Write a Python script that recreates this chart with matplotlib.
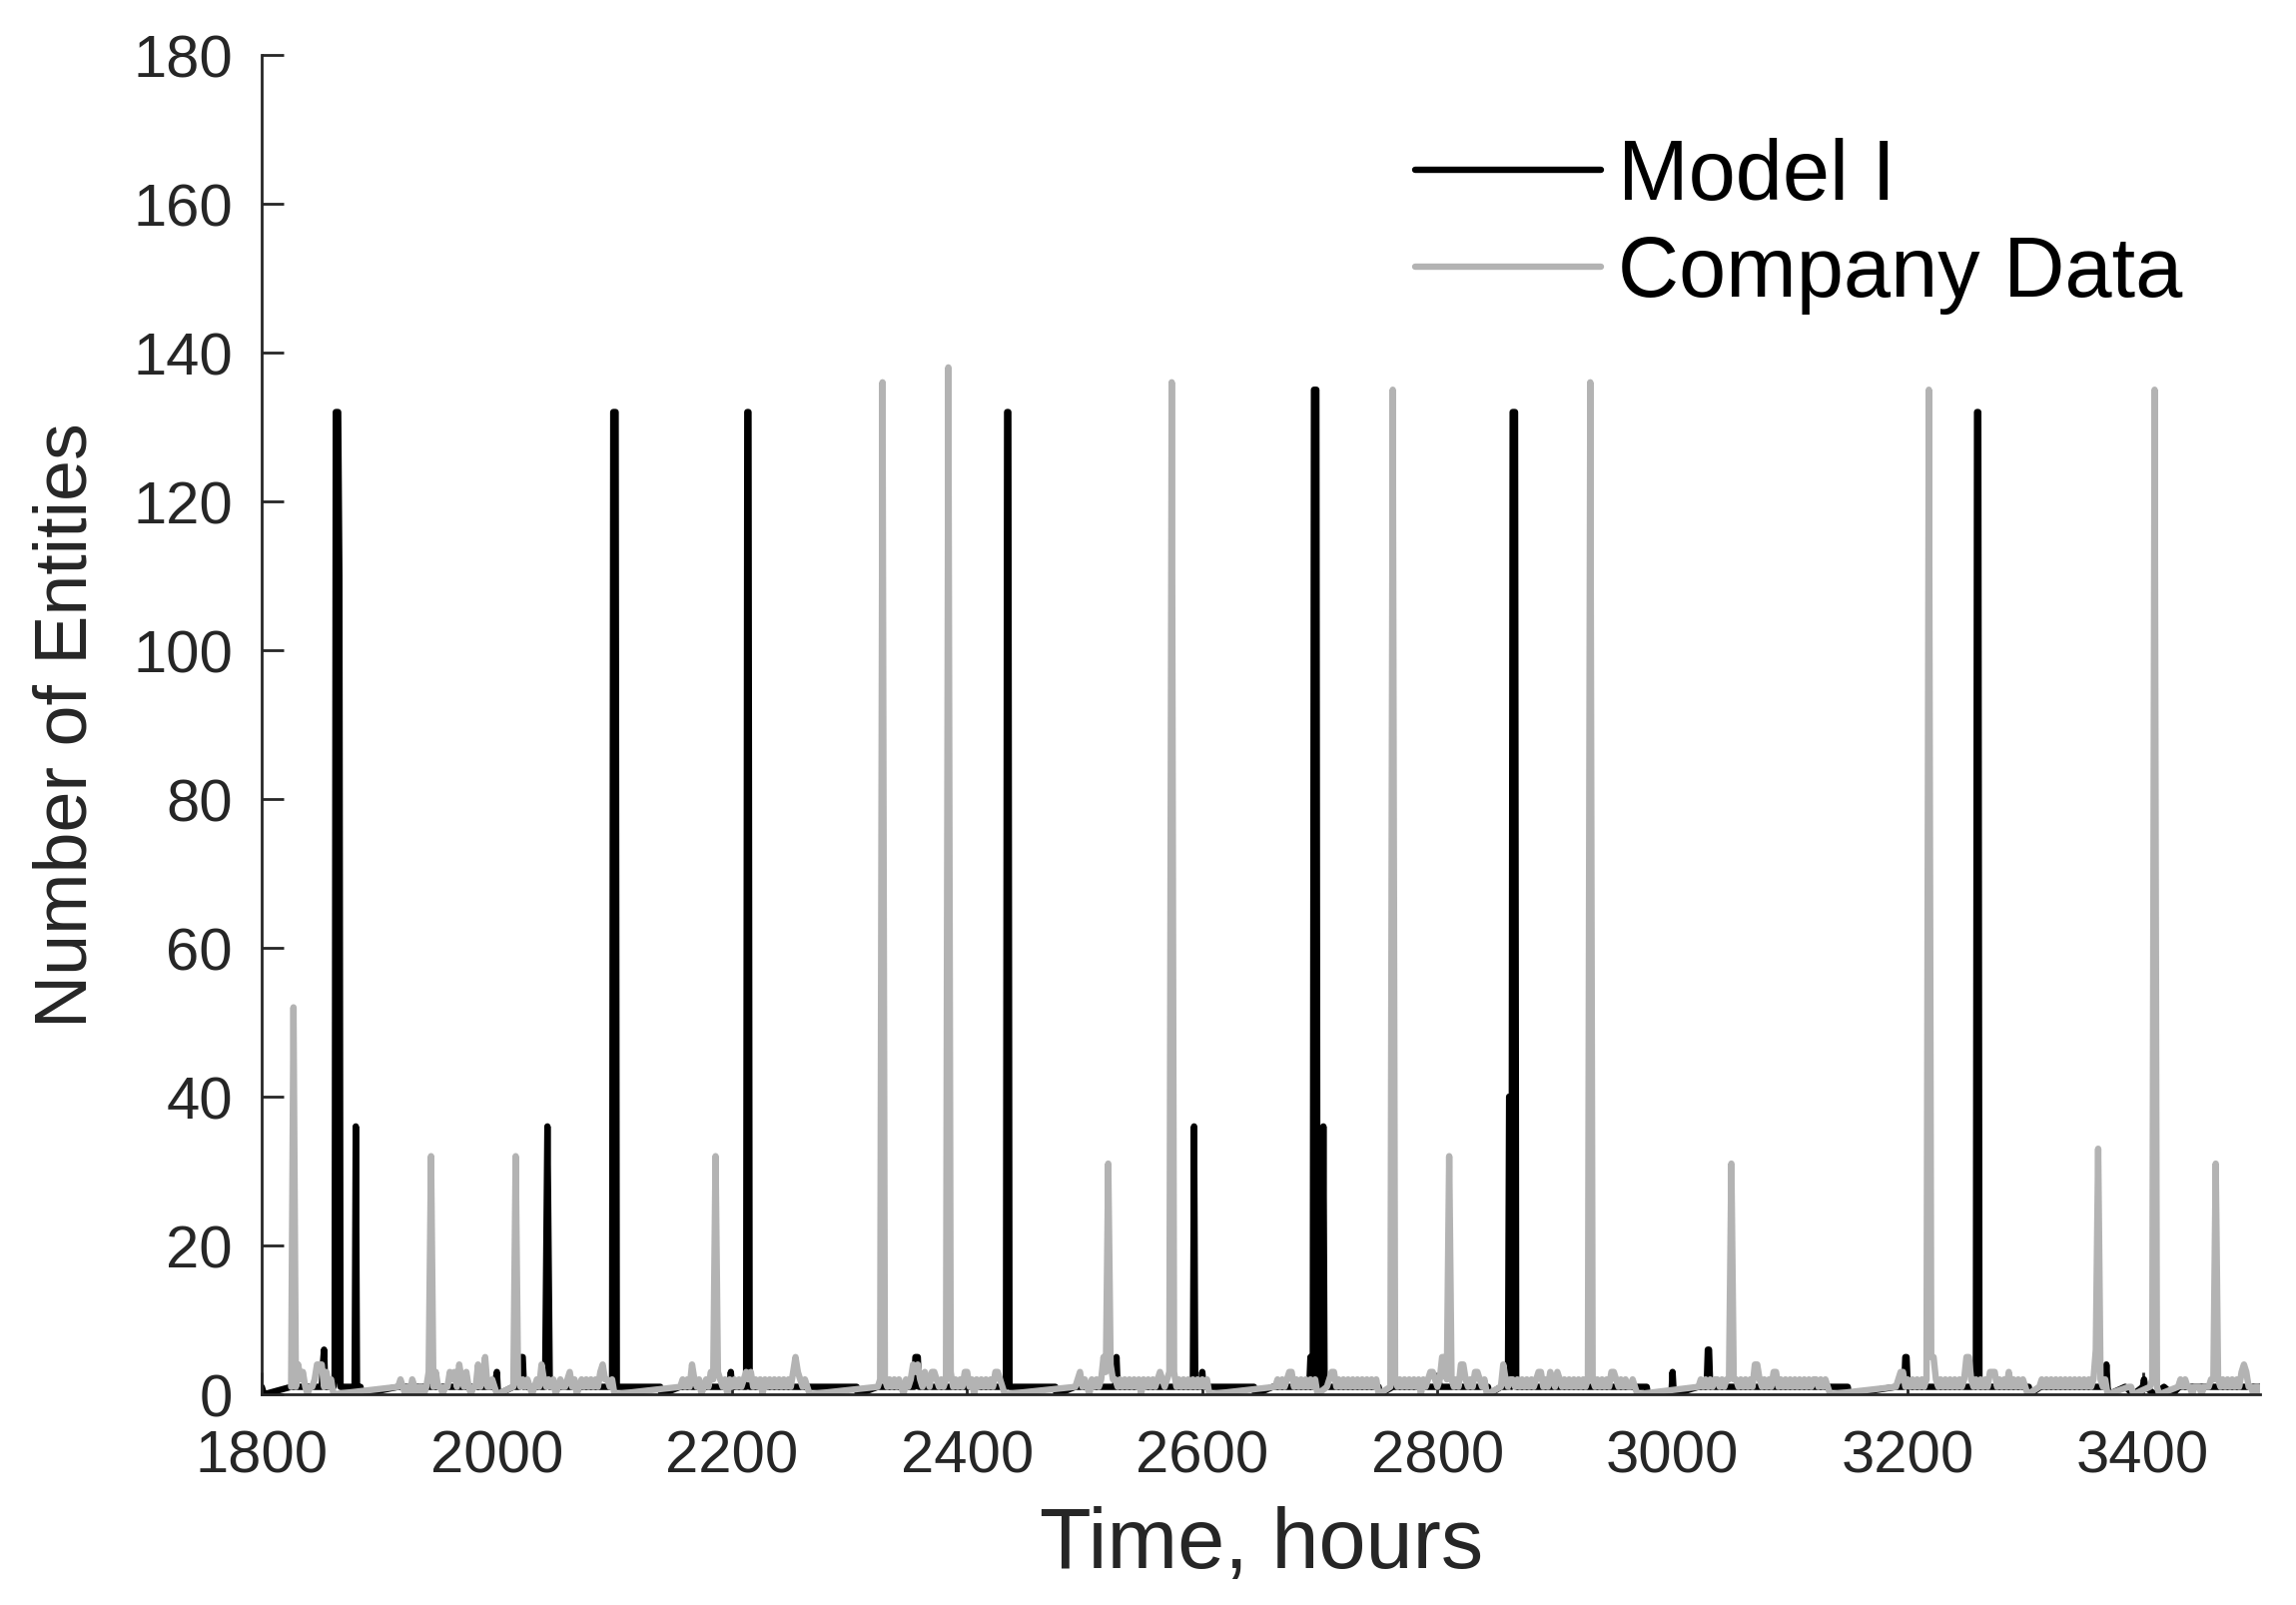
import numpy as np
import matplotlib.pyplot as plt

plt.rcParams['font.family'] = ['Liberation Sans', 'DejaVu Sans']

#%% Model I (simulation output), hour and number of entities
model_hours = [1800, 1802,
               1825, 1840, 1851, 1852, 1853, 1854, 1861, 1862, 1863, 1865, 1866, 1867, 1879, 1880, 1881, 1884, 1885,
               1916, 1960, 1998, 2000, 2001,
               2014, 2019, 2020, 2022, 2023, 2041, 2043, 2045, 2098, 2099, 2101, 2102, 2139, 2140,
               2156, 2198, 2199, 2200, 2212, 2213, 2214, 2215, 2306, 2307,
               2324, 2355, 2356, 2358, 2359, 2433, 2434, 2435, 2436, 2475, 2476,
               2492, 2526, 2527, 2528, 2592, 2593, 2594, 2599, 2600, 2601, 2644, 2645,
               2660, 2691, 2692, 2693, 2694, 2695, 2697, 2698, 2702, 2703, 2704, 2750, 2751,
               2762, 2800, 2801, 2802, 2843, 2844,
               2854, 2860, 2861, 2862, 2863, 2864, 2866, 2867, 2978, 2979,
               2999, 3000, 3001,
               3022, 3029, 3030, 3031, 3032, 3149, 3150,
               3190, 3197, 3198, 3199, 3200, 3258, 3259, 3260, 3261, 3303, 3304,
               3313, 3368, 3369, 3370, 3371,
               3385, 3392, 3400, 3401, 3402, 3410, 3418, 3425,
               3431, 3503]
model_counts = [1, 0,
                1, 1, 1, 4, 6, 1, 1, 2, 132, 132, 110, 1, 1, 36, 1, 1, 0,
                1, 1, 1, 3, 0,
                1, 1, 5, 5, 1, 1, 36, 1, 1, 132, 132, 1, 1, 0,
                1, 1, 3, 1, 1, 132, 132, 1, 1, 0,
                1, 1, 5, 5, 1, 1, 132, 132, 1, 1, 0,
                1, 1, 5, 1, 1, 36, 1, 1, 3, 1, 1, 0,
                1, 1, 5, 1, 1, 135, 135, 1, 1, 36, 1, 1, 0,
                1, 1, 2, 1, 1, 0,
                1, 1, 40, 40, 1, 132, 132, 1, 1, 0,
                0, 3, 0,
                1, 1, 6, 6, 1, 1, 0,
                1, 1, 5, 5, 1, 1, 132, 132, 1, 1, 0,
                1, 1, 4, 1, 0,
                1, 0, 1, 2, 1, 0, 1, 0,
                1, 1]

#%% Company data: start hour of each working block, counts every 2 hours
company_start = [1825, 1916, 2014, 2156, 2324, 2492, 2662, 2706, 2760,
                 2854, 3022, 3190, 3312, 3388, 3406, 3430]
company_counts = [
    [1, 52, 1, 4, 2, 3, 1, 0, 1, 1, 2, 4, 4, 4, 1, 3, 1, 2, 0],
    [1, 2, 1, 0, 1, 0, 2, 1, 0, 1, 1, 0, 1, 3, 32, 1, 3, 1, 1, 0, 1, 1, 3, 2, 3, 1, 4, 2, 1, 3,
     1, 0, 1, 1, 4, 1, 2, 5, 1, 1, 2, 1, 0],
    [1, 32, 2, 1, 2, 1, 2, 1, 0, 1, 2, 1, 4, 2, 1, 2, 1, 2, 0, 1, 2, 1, 1, 2, 3, 1, 2, 0, 1, 2,
     1, 2, 1, 2, 1, 2, 1, 3, 4, 2, 2, 1, 2, 0],
    [1, 2, 1, 2, 1, 4, 2, 1, 2, 0, 1, 2, 1, 3, 2, 32, 3, 2, 1, 2, 0, 2, 1, 2, 1, 2, 1, 2, 3, 2,
     3, 1, 2, 1, 2, 0, 2, 1, 2, 1, 2, 1, 2, 1, 2, 1, 2, 1, 3, 5, 3, 2, 1, 2, 1, 0],
    [1, 2, 136, 2, 1, 2, 1, 2, 1, 2, 1, 0, 2, 1, 2, 4, 3, 4, 2, 1, 3, 2, 1, 3, 3, 2, 1, 2, 1, 2,
     138, 3, 1, 2, 1, 2, 1, 3, 3, 1, 2, 0, 2, 1, 2, 1, 2, 1, 2, 1, 3, 3, 2, 1, 0],
    [1, 2, 3, 1, 2, 1, 0, 2, 1, 2, 1, 2, 5, 3, 31, 4, 2, 2, 1, 2, 1, 2, 1, 2, 1, 2, 1, 2, 0, 2,
     1, 2, 1, 2, 1, 2, 3, 2, 1, 2, 3, 136, 3, 1, 2, 1, 2, 1, 2, 1, 2, 1, 2, 1, 2, 1, 2, 0],
    [1, 2, 1, 2, 1, 2, 3, 3, 1, 2, 1, 2, 1, 2, 1, 2, 1, 2, 0],
    [1, 2, 3, 3, 1, 2, 1, 2, 1, 2, 1, 2, 1, 2, 1, 2, 1, 2, 1, 2, 1, 2, 0],
    [1, 135, 2, 1, 2, 1, 2, 1, 2, 1, 2, 1, 2, 0, 2, 1, 2, 3, 3, 2, 1, 2, 5, 5, 2, 32, 2, 1, 2, 1,
     4, 4, 2, 1, 2, 1, 3, 3, 2, 1, 2, 0],
    [1, 4, 2, 1, 2, 2, 1, 2, 1, 2, 1, 2, 1, 2, 1, 2, 3, 3, 1, 2, 1, 3, 2, 1, 3, 2, 1, 2, 1, 2,
     1, 2, 1, 2, 1, 2, 1, 2, 136, 2, 1, 2, 1, 2, 1, 2, 1, 3, 3, 2, 1, 2, 1, 2, 1, 1, 2, 1, 0],
    [1, 2, 1, 2, 1, 2, 1, 2, 2, 1, 2, 1, 2, 2, 31, 2, 2, 1, 2, 1, 2, 1, 2, 1, 4, 4, 2, 1, 2, 1,
     2, 1, 3, 3, 1, 2, 1, 2, 1, 2, 1, 2, 1, 2, 1, 2, 1, 2, 1, 2, 2, 1, 2, 1, 2, 1, 0],
    [1, 2, 3, 3, 1, 2, 1, 2, 1, 2, 1, 2, 1, 2, 135, 5, 5, 2, 1, 2, 1, 2, 1, 2, 1, 2, 1, 2, 1, 2,
     5, 5, 2, 1, 2, 1, 2, 1, 2, 1, 3, 3, 3, 1, 2, 1, 2, 1, 3, 1, 2, 1, 2, 1, 2, 1, 0],
    [1, 2, 1, 2, 1, 2, 1, 2, 1, 2, 1, 2, 1, 2, 1, 2, 1, 2, 1, 2, 1, 2, 1, 2, 6, 33, 2, 1, 2, 0],
    [1, 1, 0],
    [1, 2, 135, 1, 0],
    [1, 2, 1, 2, 1, 1, 0, 1, 1, 1, 0, 1, 1, 1, 2, 2, 31, 2, 1, 2, 1, 2, 1, 2, 1, 2, 1, 3, 4, 3,
     1, 1, 0, 1, 1, 0],
]
step_hours = 2

#%% build the company series (blocks joined end to end like the raw log)
company_hours, company_vals = [], []
for t0, block in zip(company_start, company_counts):
    company_hours += [t0 + step_hours * i for i in range(len(block))]
    company_vals += block

#%% figure
fig = plt.figure(figsize=(22.99, 16.08), dpi=100)
ax = fig.add_axes([0.114, 0.1312, 0.8705, 0.834])

ax.plot(model_hours, model_counts, color='black', lw=4.6, label='Model I',
        solid_joinstyle='round', solid_capstyle='round')
ax.plot(company_hours, company_vals, color='#b3b3b3', lw=4.6, label='Company Data',
        solid_joinstyle='round', solid_capstyle='round')

ax.set_xlim(1800, 3500)
ax.set_ylim(0, 180)
ax.set_xticks(np.arange(1800, 3401, 200))
ax.set_yticks(np.arange(0, 181, 20))

ax.spines[['top', 'right']].set_visible(False)
for s in ['left', 'bottom']:
    ax.spines[s].set_color('#262626')
    ax.spines[s].set_linewidth(2)
ax.tick_params(direction='in', length=16, width=2, colors='#262626',
               labelsize=43)
ax.tick_params(axis='x', pad=25)
ax.tick_params(axis='y', pad=21)

ax.set_xlabel('Time, hours', fontsize=61, color='#262626')
ax.set_ylabel('Number of Entities', fontsize=53, color='#262626')
ax.xaxis.set_label_coords(0.5, -0.083)
ax.yaxis.set_label_coords(-0.080, 0.5)

ax.legend(loc='upper left', bbox_to_anchor=(1417 / 2299, 0.914),
          bbox_transform=fig.transFigure, frameon=False, fontsize=61,
          handlelength=2.2, handletextpad=0.2, borderpad=0,
          borderaxespad=0, labelspacing=0.2)

fig.savefig('out.png', dpi=100)
